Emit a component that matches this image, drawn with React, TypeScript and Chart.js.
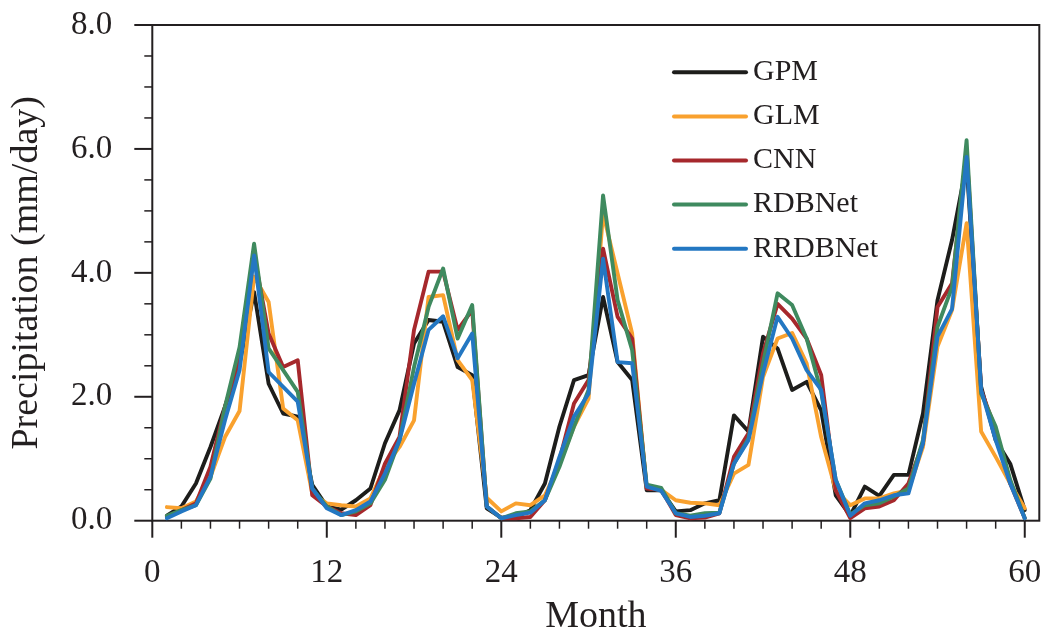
import React, { useEffect, useRef } from 'react';
import { Chart, registerables } from 'chart.js';

Chart.register(...registerables);

const months = [
  1, 2, 3, 4, 5, 6, 7, 8, 9, 10, 11, 12, 13, 14, 15, 16, 17, 18, 19, 20,
  21, 22, 23, 24, 25, 26, 27, 28, 29, 30, 31, 32, 33, 34, 35, 36, 37, 38, 39, 40,
  41, 42, 43, 44, 45, 46, 47, 48, 49, 50, 51, 52, 53, 54, 55, 56, 57, 58, 59, 60,
];

const gpm = [
  0.08, 0.23, 0.6, 1.19, 1.84, 2.54, 3.69, 2.21, 1.73, 1.68, 0.58, 0.23,
  0.18, 0.33, 0.52, 1.25, 1.78, 2.86, 3.24, 3.21, 2.48, 2.35, 0.2, 0.05,
  0.06, 0.17, 0.6, 1.52, 2.27, 2.35, 3.61, 2.56, 2.27, 0.49, 0.49, 0.15,
  0.17, 0.28, 0.33, 1.7, 1.44, 2.97, 2.78, 2.11, 2.24, 1.78, 0.41, 0.08,
  0.55, 0.4, 0.74, 0.74, 1.73, 3.56, 4.53, 5.76, 2.16, 1.3, 0.92, 0.17,
];

const glm = [
  0.22, 0.2, 0.31, 0.71, 1.35, 1.77, 3.94, 3.53, 1.81, 1.62, 0.44, 0.28,
  0.25, 0.23, 0.36, 0.87, 1.19, 1.62, 3.61, 3.64, 2.59, 2.27, 0.37, 0.15,
  0.28, 0.25, 0.41, 0.92, 1.52, 1.97, 4.96, 3.99, 3.02, 0.53, 0.5, 0.33,
  0.29, 0.28, 0.25, 0.76, 0.9, 2.32, 2.94, 3.03, 2.54, 1.35, 0.49, 0.25,
  0.36, 0.36, 0.44, 0.49, 1.19, 2.81, 3.4, 4.8, 1.44, 1.03, 0.6, 0.2,
];

const cnn = [
  0.06, 0.17, 0.28, 0.87, 1.84, 2.59, 4.3, 3.02, 2.48, 2.59, 0.41, 0.23,
  0.12, 0.09, 0.25, 0.92, 1.35, 3.08, 4.02, 4.02, 3.08, 3.4, 0.23, 0.04,
  0.04, 0.06, 0.33, 0.98, 1.89, 2.27, 4.39, 3.29, 2.94, 0.52, 0.5, 0.09,
  0.04, 0.05, 0.12, 1.03, 1.41, 2.7, 3.5, 3.26, 2.94, 2.35, 0.49, 0.04,
  0.2, 0.23, 0.33, 0.6, 1.25, 3.45, 3.83, 5.98, 2.11, 1.46, 0.6, 0.04,
];

const rdbnet = [
  0.08, 0.17, 0.25, 0.68, 1.84, 2.8, 4.47, 2.78, 2.43, 2.08, 0.52, 0.23,
  0.09, 0.15, 0.28, 0.66, 1.3, 2.48, 3.45, 4.07, 2.94, 3.48, 0.23, 0.04,
  0.12, 0.15, 0.33, 0.87, 1.52, 2.11, 5.25, 3.56, 2.75, 0.58, 0.53, 0.12,
  0.08, 0.12, 0.13, 0.92, 1.33, 2.54, 3.67, 3.48, 2.94, 2.08, 0.66, 0.1,
  0.25, 0.28, 0.39, 0.52, 1.3, 3.13, 3.77, 6.14, 2.05, 1.52, 0.66, 0.04,
];

const rrdbnet = [
  0.04, 0.15, 0.25, 0.71, 1.62, 2.43, 4.28, 2.4, 2.16, 1.92, 0.52, 0.2,
  0.09, 0.17, 0.31, 0.76, 1.3, 2.21, 3.08, 3.3, 2.62, 3.02, 0.23, 0.04,
  0.09, 0.13, 0.33, 1.03, 1.68, 2.05, 4.23, 2.56, 2.54, 0.55, 0.48, 0.12,
  0.06, 0.08, 0.12, 0.92, 1.3, 2.38, 3.29, 2.94, 2.43, 2.11, 0.66, 0.08,
  0.28, 0.33, 0.41, 0.44, 1.25, 2.97, 3.42, 5.87, 2.11, 1.3, 0.6, 0.04,
];

const seriesNames = ['GPM', 'GLM', 'CNN', 'RDBNet', 'RRDBNet'];
const seriesColors = ['#1d1d1b', '#f9a12e', '#a6282c', '#3f8a5f', '#2377c2'];
const seriesValues = [gpm, glm, cnn, rdbnet, rrdbnet];

const xMajorStep = 12;
const yMajorStep = 2;
const xTitle = 'Month';
const yTitle = 'Precipitation (mm/day)';

const FONT = "'Liberation Serif', 'Times New Roman', serif";
const INK = '#231f20';

const W = 1046;
const H = 633;
const AREA_LEFT = 152.3;
const AREA_RIGHT = 1039.3;
const AREA_TOP = 25;
const AREA_BOTTOM = 520.7;

const isMultiple = (v: number, step: number) => Math.abs(v / step - Math.round(v / step)) < 1e-6;

const frameTicksPlugin = {
  id: 'frameTicks',
  beforeDatasetsDraw(chart: any) {
    const { ctx, chartArea, scales } = chart;
    const { left, right, top, bottom } = chartArea;
    const x = scales.x;
    const y = scales.y;
    ctx.save();
    ctx.strokeStyle = INK;
    ctx.lineCap = 'butt';
    ctx.lineWidth = 2;
    ctx.strokeRect(left, top, right - left, bottom - top);
    y.ticks.forEach((t: any) => {
      const py = y.getPixelForValue(t.value);
      const major = isMultiple(t.value, yMajorStep);
      ctx.lineWidth = major ? 2 : 1.5;
      ctx.beginPath();
      ctx.moveTo(left - (major ? 18 : 8), py);
      ctx.lineTo(left, py);
      ctx.stroke();
    });
    x.ticks.forEach((t: any) => {
      const px = x.getPixelForValue(t.value);
      const major = isMultiple(t.value, xMajorStep);
      ctx.lineWidth = major ? 2 : 1.5;
      ctx.beginPath();
      ctx.moveTo(px, bottom);
      ctx.lineTo(px, bottom + (major ? 17 : 8));
      ctx.stroke();
    });
    ctx.restore();
  },
};

const legendPlugin = {
  id: 'customLegend',
  afterDraw(chart: any) {
    const { ctx } = chart;
    ctx.save();
    chart.data.datasets.forEach((ds: any, i: number) => {
      const yy = 72.3 + i * 44.1;
      ctx.strokeStyle = ds.borderColor;
      ctx.lineWidth = 4;
      ctx.lineCap = 'round';
      ctx.beginPath();
      ctx.moveTo(674, yy);
      ctx.lineTo(746, yy);
      ctx.stroke();
      ctx.fillStyle = INK;
      ctx.font = `30px ${FONT}`;
      ctx.textAlign = 'left';
      ctx.textBaseline = 'middle';
      ctx.fillText(ds.label, 753, yy);
    });
    ctx.restore();
  },
};

export default function App() {
  const canvasRef = useRef<HTMLCanvasElement | null>(null);

  useEffect(() => {
    const canvas = canvasRef.current;
    if (!canvas) return;
    const chart = new Chart(canvas, {
      type: 'line',
      data: {
        labels: months,
        datasets: seriesNames.map((name, i) => ({
          label: name,
          data: seriesValues[i],
          borderColor: seriesColors[i],
          backgroundColor: seriesColors[i],
          borderWidth: 3.9,
          pointRadius: 0,
          pointHoverRadius: 0,
          tension: 0,
          fill: false,
          borderJoinStyle: 'round',
          borderCapStyle: 'round',
          order: seriesNames.length - i,
        })),
      },
      options: {
        responsive: false,
        animation: false,
        events: [],
        layout: {
          padding: { left: 0, right: W - AREA_RIGHT, top: AREA_TOP, bottom: 0 },
        },
        plugins: {
          legend: { display: false },
          tooltip: { enabled: false },
        },
        scales: {
          x: {
            type: 'linear',
            min: 0,
            max: 61,
            grid: { display: false, drawTicks: false },
            border: { display: false },
            ticks: {
              stepSize: 2,
              includeBounds: false,
              autoSkip: false,
              maxRotation: 0,
              minRotation: 0,
              padding: 33,
              color: INK,
              font: { family: FONT, size: 33 },
              callback: (v: any) => (isMultiple(Number(v), xMajorStep) ? String(v) : ''),
            },
            title: {
              display: true,
              text: xTitle,
              color: INK,
              font: { family: FONT, size: 38, lineHeight: 0.83 },
              padding: { top: 0, bottom: 0 },
            },
            afterFit: (s: any) => {
              s.height = H - AREA_BOTTOM;
              s.paddingLeft = 0;
              s.paddingRight = 0;
            },
          },
          y: {
            min: 0,
            max: 8,
            grid: { display: false, drawTicks: false },
            border: { display: false },
            ticks: {
              stepSize: 0.5,
              autoSkip: false,
              padding: 40,
              color: INK,
              font: { family: FONT, size: 33 },
              callback: (v: any) => (isMultiple(Number(v), yMajorStep) ? Number(v).toFixed(1) : ''),
            },
            title: {
              display: true,
              text: yTitle,
              color: INK,
              font: { family: FONT, size: 38 },
              padding: { top: 4.5, bottom: 0 },
            },
            afterFit: (s: any) => {
              s.width = AREA_LEFT;
              s.paddingTop = 0;
              s.paddingBottom = 0;
            },
          },
        },
      },
      plugins: [frameTicksPlugin, legendPlugin],
    } as any);
    return () => chart.destroy();
  }, []);

  return (
    <div style={{ position: 'fixed', left: 0, top: 0, width: W, height: H, background: '#ffffff' }}>
      <canvas ref={canvasRef} width={W} height={H} style={{ display: 'block' }} />
    </div>
  );
}
